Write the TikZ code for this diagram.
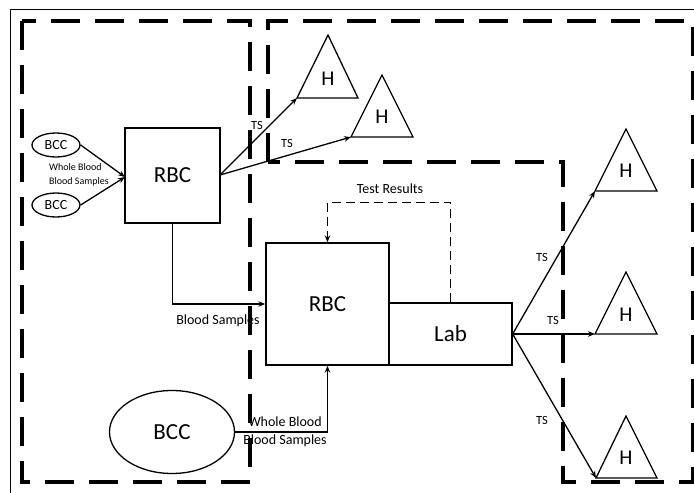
\documentclass[tikz,border=0pt]{standalone}
\usepackage{fontspec}
\setmainfont{Carlito}
\usetikzlibrary{arrows.meta,shapes.geometric}
\tikzset{
  region/.style={line width=4pt, dash pattern=on 29pt off 15pt},
  box/.style={draw, line width=1.3pt, inner sep=0pt, font=\fontsize{23}{26}\selectfont},
  oval/.style={draw, ellipse, line width=1.3pt, inner sep=0pt},
  tri/.style={line width=1.3pt, line join=miter},
  htext/.style={inner sep=0pt, font=\fontsize{21}{24}\selectfont},
  conn/.style={line width=1.3pt},
  arr/.style={conn, -{Stealth[length=7pt,width=5.5pt]}},
  lbl/.style={inner sep=0pt, font=\fontsize{14}{18}\selectfont, align=center},
  tslbl/.style={inner sep=0pt, font=\fontsize{12.5}{14}\selectfont},
}
\begin{document}
\begin{tikzpicture}[x=1pt,y=-1pt]
\useasboundingbox (0,0) rectangle (694,493);
% outer frame
\draw[line width=0.8pt] (10,493) -- (10,9) -- (694,9);
% dashed regions
\draw[region] (22,21) rectangle (250,482);
\draw[region] (268,162) -- (268,21) -- (693,21) -- (693,482) -- (563,482) -- (563,162) -- cycle;

% nodes
\node[oval, minimum width=48pt, minimum height=24pt, font=\fontsize{14}{16}\selectfont] (bcc1) at (56,145) {BCC};
\node[oval, minimum width=48pt, minimum height=24pt, font=\fontsize{14}{16}\selectfont] (bcc2) at (56,205) {BCC};
\node[box, minimum width=95pt, minimum height=95pt] (rbc1) at (172.5,175.5) {RBC};
\node[box, minimum width=123pt, minimum height=122pt] (rbc2) at (327.5,304) {RBC};
\node[box, minimum width=123pt, minimum height=62pt] (lab) at (450.5,334) {Lab};
\node[oval, minimum width=125pt, minimum height=83pt, font=\fontsize{23}{26}\selectfont] (bcc3) at (172,432) {BCC};

% triangles
\draw[tri] (328,35) -- (358,98) -- (297,98) -- cycle;
\node[htext] (h1) at (328,79) {H};
\coordinate (h1in) at (297,98);
\draw[tri] (382,75) -- (413,137) -- (351,137) -- cycle;
\node[htext] (h2) at (382,117) {H};
\coordinate (h2in) at (351,137);
\draw[tri] (626,129) -- (657,191) -- (595,191) -- cycle;
\node[htext] (h3) at (626,171) {H};
\coordinate (h3in) at (595,191);
\draw[tri] (626,272) -- (657,334) -- (595,334) -- cycle;
\node[htext] (h4) at (626,315) {H};
\coordinate (h4in) at (595,334);
\draw[tri] (626,416) -- (657,478) -- (596,478) -- cycle;
\node[htext] (h5) at (626,458) {H};
\coordinate (h5in) at (596,478);

% connectors
\coordinate (rbc1in) at (125,177);
\draw[arr] (bcc1.east) -- (rbc1in);
\draw[arr] (bcc2.east) -- (rbc1in);
\coordinate (rbc1out) at (220,175);
\draw[arr] (rbc1out) -- (h1in);
\draw[arr] (rbc1out) -- (h2in);
\draw[arr] (rbc1.south) |- (rbc2.west);
\draw[arr] (bcc3.east) -| (rbc2.south);
\draw[conn, dash pattern=on 9pt off 5pt, -{Stealth[length=7pt,width=5.5pt]}] (lab.north) -- ++(0,-100) -| (rbc2.north);
\draw[arr] (lab.east) -- (h3in);
\draw[arr] (lab.east) -- (h4in);
\draw[arr] (lab.east) -- (h5in);

% labels
\node[inner sep=0pt, font=\fontsize{10}{14}\selectfont, align=left, anchor=west] (wb1) at (49,175) {Whole Blood\\Blood Samples};
\node[tslbl] (ts1) at (257,125) {TS};
\node[tslbl] (ts2) at (287,143) {TS};
\node[tslbl] (ts3) at (542,257) {TS};
\node[tslbl] (ts4) at (553,320) {TS};
\node[tslbl] (ts5) at (542,420) {TS};
\node[lbl] (tr) at (390,189) {Test Results};
\node[lbl] (bs) at (218,321) {Blood Samples};
\node[lbl] (wb2) at (285,432) {Whole Blood\\Blood Samples};
\end{tikzpicture}
\end{document}
